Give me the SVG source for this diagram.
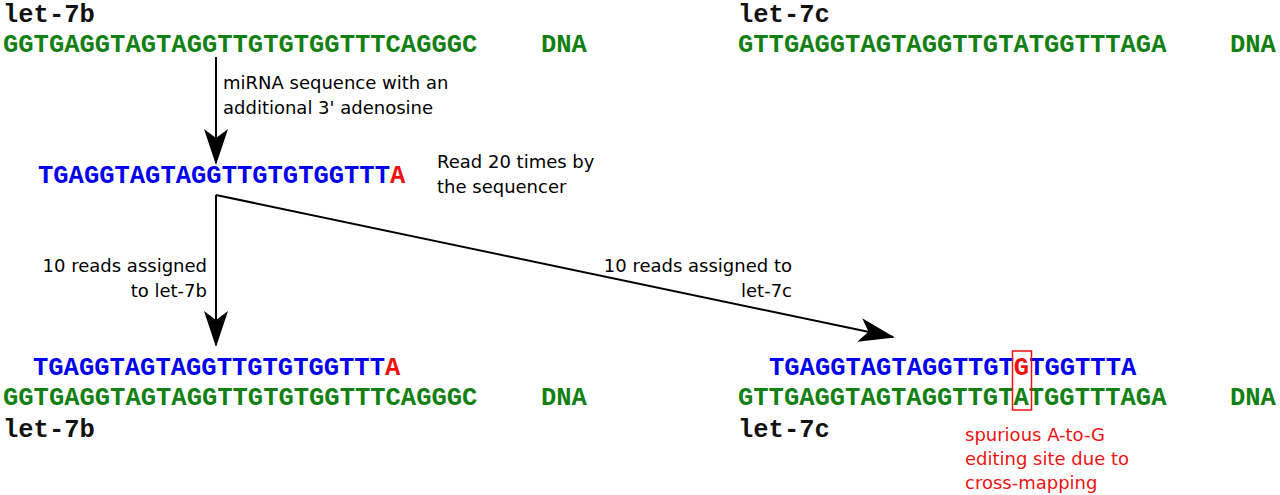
<svg xmlns="http://www.w3.org/2000/svg" width="1280" height="495" viewBox="0 0 1280 495">
<style>
.seq{font-family:"Liberation Mono","Courier New",monospace;font-weight:bold;font-size:25.5px}
.g{fill:#138013}.b{fill:#0000ee}.r{fill:#ee1111}.k{fill:#111}
.lab{font-family:"DejaVu Sans",sans-serif;font-size:18px;fill:#000}
.note{font-family:"DejaVu Sans",sans-serif;font-size:18px;fill:#ee1111}
.ln{stroke:#000;stroke-width:2;fill:none;marker-end:url(#ah)}
</style>
<defs>
<marker id="ah" viewBox="0 0 36 24" refX="34" refY="12" markerWidth="36" markerHeight="24" markerUnits="userSpaceOnUse" orient="auto">
<path d="M0,0 L36,12 L0,24 L9,12 Z" fill="#000"/>
</marker>
</defs>
<g id="connectors">
<path class="ln" d="M216,57 V163"/>
<path class="ln" d="M216,195 V345"/>
<path class="ln" d="M216,195 L893,337"/>
</g>
<g id="top-let7b">
<text class="seq k" x="3" y="22">let-7b</text>
<text class="seq g" x="3" y="52">GGTGAGGTAGTAGGTTGTGTGGTTTCAGGGC</text>
<text class="seq g" x="541" y="52">DNA</text>
</g>
<g id="top-let7c">
<text class="seq k" x="738" y="22">let-7c</text>
<text class="seq g" x="738" y="52">GTTGAGGTAGTAGGTTGTATGGTTTAGA</text>
<text class="seq g" x="1230" y="52">DNA</text>
</g>
<g id="label-mirna">
<text class="lab" x="223" y="89">miRNA sequence with an</text>
<text class="lab" x="223" y="114">additional 3' adenosine</text>
</g>
<g id="read">
<text class="seq b" x="38" y="183">TGAGGTAGTAGGTTGTGTGGTTT<tspan class="r">A</tspan></text>
</g>
<g id="label-read">
<text class="lab" x="437" y="168">Read 20 times by</text>
<text class="lab" x="437" y="193">the sequencer</text>
</g>
<g id="label-7b">
<text class="lab" x="207" y="272" text-anchor="end">10 reads assigned</text>
<text class="lab" x="207" y="297" text-anchor="end">to let-7b</text>
</g>
<g id="label-7c">
<text class="lab" x="792" y="272" text-anchor="end">10 reads assigned to</text>
<text class="lab" x="792" y="297" text-anchor="end">let-7c</text>
</g>
<g id="bottom-let7b">
<text class="seq b" x="33" y="375">TGAGGTAGTAGGTTGTGTGGTTT<tspan class="r">A</tspan></text>
<text class="seq g" x="3" y="405">GGTGAGGTAGTAGGTTGTGTGGTTTCAGGGC</text>
<text class="seq g" x="541" y="405">DNA</text>
<text class="seq k" x="3" y="437">let-7b</text>
</g>
<g id="bottom-let7c">
<text class="seq b" x="769" y="375">TGAGGTAGTAGGTTGT<tspan class="r">G</tspan>TGGTTTA</text>
<text class="seq g" x="738" y="405">GTTGAGGTAGTAGGTTGTATGGTTTAGA</text>
<text class="seq g" x="1230" y="405">DNA</text>
<text class="seq k" x="738" y="437">let-7c</text>
<rect x="1012.5" y="351" width="19" height="59" fill="none" stroke="#ee1111" stroke-width="1.5"/>
</g>
<g id="note">
<text class="note" x="965" y="441">spurious A-to-G</text>
<text class="note" x="965" y="465">editing site due to</text>
<text class="note" x="965" y="489">cross-mapping</text>
</g>
</svg>
